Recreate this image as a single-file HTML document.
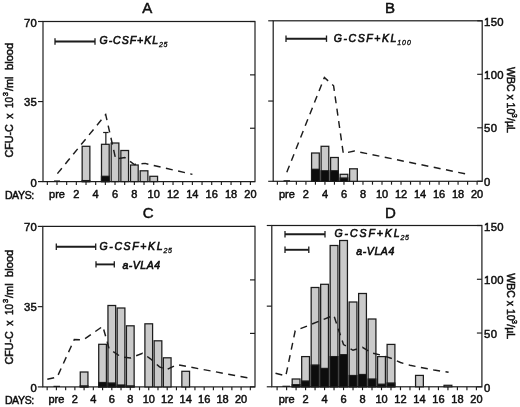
<!DOCTYPE html>
<html><head><meta charset="utf-8"><title>Figure</title>
<style>
html,body{margin:0;padding:0;background:#fff;}
body{width:520px;height:407px;overflow:hidden;font-family:"Liberation Sans",sans-serif;}
svg{display:block;}
svg text{font-family:"Liberation Sans",sans-serif;fill:#111;stroke:#111;stroke-width:0.5px;}
svg text.bi{font-style:italic;font-weight:normal;stroke-width:0.62px;}
svg text.sub{stroke-width:0.35px;}
</style></head><body>
<svg width="520" height="407" viewBox="0 0 520 407">
<defs><filter id="soft" x="0" y="0" width="520" height="407" filterUnits="userSpaceOnUse"><feGaussianBlur stdDeviation="0.35"/></filter></defs>
<rect width="520" height="407" fill="#ffffff"/>
<g filter="url(#soft)">
<rect x="43" y="21.5" width="212" height="160.1" fill="none" stroke="#1c1c1c" stroke-width="1.2"/>
<line x1="47.33" y1="181.6" x2="47.33" y2="185.0" stroke="#1c1c1c" stroke-width="1.15" />
<line x1="57.0" y1="181.6" x2="57.0" y2="185.0" stroke="#1c1c1c" stroke-width="1.15" />
<line x1="66.67" y1="181.6" x2="66.67" y2="185.0" stroke="#1c1c1c" stroke-width="1.15" />
<line x1="76.34" y1="181.6" x2="76.34" y2="185.0" stroke="#1c1c1c" stroke-width="1.15" />
<line x1="86.00999999999999" y1="181.6" x2="86.00999999999999" y2="185.0" stroke="#1c1c1c" stroke-width="1.15" />
<line x1="95.68" y1="181.6" x2="95.68" y2="185.0" stroke="#1c1c1c" stroke-width="1.15" />
<line x1="105.35" y1="181.6" x2="105.35" y2="185.0" stroke="#1c1c1c" stroke-width="1.15" />
<line x1="115.02" y1="181.6" x2="115.02" y2="185.0" stroke="#1c1c1c" stroke-width="1.15" />
<line x1="124.69" y1="181.6" x2="124.69" y2="185.0" stroke="#1c1c1c" stroke-width="1.15" />
<line x1="134.36" y1="181.6" x2="134.36" y2="185.0" stroke="#1c1c1c" stroke-width="1.15" />
<line x1="144.03" y1="181.6" x2="144.03" y2="185.0" stroke="#1c1c1c" stroke-width="1.15" />
<line x1="153.7" y1="181.6" x2="153.7" y2="185.0" stroke="#1c1c1c" stroke-width="1.15" />
<line x1="163.37" y1="181.6" x2="163.37" y2="185.0" stroke="#1c1c1c" stroke-width="1.15" />
<line x1="173.04" y1="181.6" x2="173.04" y2="185.0" stroke="#1c1c1c" stroke-width="1.15" />
<line x1="182.70999999999998" y1="181.6" x2="182.70999999999998" y2="185.0" stroke="#1c1c1c" stroke-width="1.15" />
<line x1="192.38" y1="181.6" x2="192.38" y2="185.0" stroke="#1c1c1c" stroke-width="1.15" />
<line x1="202.05" y1="181.6" x2="202.05" y2="185.0" stroke="#1c1c1c" stroke-width="1.15" />
<line x1="211.72" y1="181.6" x2="211.72" y2="185.0" stroke="#1c1c1c" stroke-width="1.15" />
<line x1="221.39" y1="181.6" x2="221.39" y2="185.0" stroke="#1c1c1c" stroke-width="1.15" />
<line x1="231.06" y1="181.6" x2="231.06" y2="185.0" stroke="#1c1c1c" stroke-width="1.15" />
<line x1="240.73" y1="181.6" x2="240.73" y2="185.0" stroke="#1c1c1c" stroke-width="1.15" />
<line x1="250.4" y1="181.6" x2="250.4" y2="185.0" stroke="#1c1c1c" stroke-width="1.15" />
<line x1="38" y1="21.5" x2="43" y2="21.5" stroke="#1c1c1c" stroke-width="1.15" />
<line x1="38" y1="101.55" x2="43" y2="101.55" stroke="#1c1c1c" stroke-width="1.15" />
<line x1="38" y1="181.6" x2="43" y2="181.6" stroke="#1c1c1c" stroke-width="1.15" />
<line x1="250" y1="21.5" x2="255" y2="21.5" stroke="#1c1c1c" stroke-width="1.15" />
<line x1="250" y1="74.86666666666666" x2="255" y2="74.86666666666666" stroke="#1c1c1c" stroke-width="1.15" />
<line x1="250" y1="128.23333333333332" x2="255" y2="128.23333333333332" stroke="#1c1c1c" stroke-width="1.15" />
<line x1="250" y1="181.6" x2="255" y2="181.6" stroke="#1c1c1c" stroke-width="1.15" />
<rect x="82.16" y="146.3" width="7.7" height="35.30" fill="#cacaca" stroke="#1c1c1c" stroke-width="1.25"/>
<rect x="82.16" y="180.6" width="7.7" height="1.00" fill="#0a0a0a" stroke="#1c1c1c" stroke-width="1.25"/>
<rect x="101.50" y="144.3" width="7.7" height="37.30" fill="#cacaca" stroke="#1c1c1c" stroke-width="1.25"/>
<rect x="101.50" y="176.3" width="7.7" height="5.30" fill="#0a0a0a" stroke="#1c1c1c" stroke-width="1.25"/>
<rect x="111.17" y="143" width="7.7" height="38.60" fill="#cacaca" stroke="#1c1c1c" stroke-width="1.25"/>
<rect x="120.84" y="150.5" width="7.7" height="31.10" fill="#cacaca" stroke="#1c1c1c" stroke-width="1.25"/>
<rect x="130.51" y="165" width="7.7" height="16.60" fill="#cacaca" stroke="#1c1c1c" stroke-width="1.25"/>
<rect x="140.18" y="170.8" width="7.7" height="10.80" fill="#cacaca" stroke="#1c1c1c" stroke-width="1.25"/>
<rect x="149.85" y="176.3" width="7.7" height="5.30" fill="#cacaca" stroke="#1c1c1c" stroke-width="1.25"/>
<line x1="105.85" y1="132.5" x2="105.85" y2="144.3" stroke="#1c1c1c" stroke-width="1.2" />
<line x1="103.14999999999999" y1="132.5" x2="108.55" y2="132.5" stroke="#1c1c1c" stroke-width="1.2" />
<polyline points="57.4,173.6 105.7,114.6 115.7,159 124.7,157.5 134.3,164.5 145,163.4 192.4,174.4" fill="none" stroke="#1c1c1c" stroke-width="1.45" stroke-dasharray="7 5.5"/>
<line x1="55" y1="41.5" x2="95" y2="41.5" stroke="#1c1c1c" stroke-width="1.9" />
<line x1="55" y1="38.3" x2="55" y2="44.7" stroke="#1c1c1c" stroke-width="1.3" />
<line x1="95" y1="38.3" x2="95" y2="44.7" stroke="#1c1c1c" stroke-width="1.3" />
<text x="99.5" y="44" font-size="10.5" class="bi" textLength="58.5" lengthAdjust="spacing">G-CSF+KL</text>
<text x="159.0" y="47.1" font-size="7" class="bi sub" textLength="8.5" lengthAdjust="spacing">25</text>
<text x="147.3" y="12.6" font-size="15" text-anchor="middle" >A</text>
<line x1="54" y1="181" x2="60" y2="181" stroke="#1c1c1c" stroke-width="1.2" />
<rect x="273.2" y="20.8" width="209.0" height="160.5" fill="none" stroke="#1c1c1c" stroke-width="1.2"/>
<line x1="277.39" y1="181.3" x2="277.39" y2="184.70000000000002" stroke="#1c1c1c" stroke-width="1.15" />
<line x1="286.9" y1="181.3" x2="286.9" y2="184.70000000000002" stroke="#1c1c1c" stroke-width="1.15" />
<line x1="296.40999999999997" y1="181.3" x2="296.40999999999997" y2="184.70000000000002" stroke="#1c1c1c" stroke-width="1.15" />
<line x1="305.91999999999996" y1="181.3" x2="305.91999999999996" y2="184.70000000000002" stroke="#1c1c1c" stroke-width="1.15" />
<line x1="315.42999999999995" y1="181.3" x2="315.42999999999995" y2="184.70000000000002" stroke="#1c1c1c" stroke-width="1.15" />
<line x1="324.94" y1="181.3" x2="324.94" y2="184.70000000000002" stroke="#1c1c1c" stroke-width="1.15" />
<line x1="334.45" y1="181.3" x2="334.45" y2="184.70000000000002" stroke="#1c1c1c" stroke-width="1.15" />
<line x1="343.96" y1="181.3" x2="343.96" y2="184.70000000000002" stroke="#1c1c1c" stroke-width="1.15" />
<line x1="353.46999999999997" y1="181.3" x2="353.46999999999997" y2="184.70000000000002" stroke="#1c1c1c" stroke-width="1.15" />
<line x1="362.97999999999996" y1="181.3" x2="362.97999999999996" y2="184.70000000000002" stroke="#1c1c1c" stroke-width="1.15" />
<line x1="372.49" y1="181.3" x2="372.49" y2="184.70000000000002" stroke="#1c1c1c" stroke-width="1.15" />
<line x1="382.0" y1="181.3" x2="382.0" y2="184.70000000000002" stroke="#1c1c1c" stroke-width="1.15" />
<line x1="391.51" y1="181.3" x2="391.51" y2="184.70000000000002" stroke="#1c1c1c" stroke-width="1.15" />
<line x1="401.02" y1="181.3" x2="401.02" y2="184.70000000000002" stroke="#1c1c1c" stroke-width="1.15" />
<line x1="410.53" y1="181.3" x2="410.53" y2="184.70000000000002" stroke="#1c1c1c" stroke-width="1.15" />
<line x1="420.03999999999996" y1="181.3" x2="420.03999999999996" y2="184.70000000000002" stroke="#1c1c1c" stroke-width="1.15" />
<line x1="429.54999999999995" y1="181.3" x2="429.54999999999995" y2="184.70000000000002" stroke="#1c1c1c" stroke-width="1.15" />
<line x1="439.05999999999995" y1="181.3" x2="439.05999999999995" y2="184.70000000000002" stroke="#1c1c1c" stroke-width="1.15" />
<line x1="448.56999999999994" y1="181.3" x2="448.56999999999994" y2="184.70000000000002" stroke="#1c1c1c" stroke-width="1.15" />
<line x1="458.08" y1="181.3" x2="458.08" y2="184.70000000000002" stroke="#1c1c1c" stroke-width="1.15" />
<line x1="467.59" y1="181.3" x2="467.59" y2="184.70000000000002" stroke="#1c1c1c" stroke-width="1.15" />
<line x1="477.09999999999997" y1="181.3" x2="477.09999999999997" y2="184.70000000000002" stroke="#1c1c1c" stroke-width="1.15" />
<line x1="268.2" y1="20.8" x2="273.2" y2="20.8" stroke="#1c1c1c" stroke-width="1.15" />
<line x1="268.2" y1="101.05" x2="273.2" y2="101.05" stroke="#1c1c1c" stroke-width="1.15" />
<line x1="268.2" y1="181.3" x2="273.2" y2="181.3" stroke="#1c1c1c" stroke-width="1.15" />
<line x1="477.2" y1="20.8" x2="482.2" y2="20.8" stroke="#1c1c1c" stroke-width="1.15" />
<line x1="477.2" y1="74.3" x2="482.2" y2="74.3" stroke="#1c1c1c" stroke-width="1.15" />
<line x1="477.2" y1="127.8" x2="482.2" y2="127.8" stroke="#1c1c1c" stroke-width="1.15" />
<line x1="477.2" y1="181.3" x2="482.2" y2="181.3" stroke="#1c1c1c" stroke-width="1.15" />
<rect x="311.58" y="153" width="7.7" height="28.30" fill="#cacaca" stroke="#1c1c1c" stroke-width="1.25"/>
<rect x="311.58" y="169.3" width="7.7" height="12.00" fill="#0a0a0a" stroke="#1c1c1c" stroke-width="1.25"/>
<rect x="321.09" y="146.3" width="7.7" height="35.00" fill="#cacaca" stroke="#1c1c1c" stroke-width="1.25"/>
<rect x="321.09" y="170.8" width="7.7" height="10.50" fill="#0a0a0a" stroke="#1c1c1c" stroke-width="1.25"/>
<rect x="330.60" y="157.5" width="7.7" height="23.80" fill="#cacaca" stroke="#1c1c1c" stroke-width="1.25"/>
<rect x="330.60" y="170.8" width="7.7" height="10.50" fill="#0a0a0a" stroke="#1c1c1c" stroke-width="1.25"/>
<rect x="340.11" y="174.3" width="7.7" height="7.00" fill="#cacaca" stroke="#1c1c1c" stroke-width="1.25"/>
<rect x="340.11" y="178" width="7.7" height="3.30" fill="#0a0a0a" stroke="#1c1c1c" stroke-width="1.25"/>
<rect x="349.62" y="168.8" width="7.7" height="12.50" fill="#cacaca" stroke="#1c1c1c" stroke-width="1.25"/>
<polyline points="286.8,172.3 324.4,77.5 333.6,85.8 343.3,153.4 354.3,151 467.7,174.3" fill="none" stroke="#1c1c1c" stroke-width="1.45" stroke-dasharray="7 5.5"/>
<line x1="286" y1="38.7" x2="326.5" y2="38.7" stroke="#1c1c1c" stroke-width="1.9" />
<line x1="286" y1="35.5" x2="286" y2="41.900000000000006" stroke="#1c1c1c" stroke-width="1.3" />
<line x1="326.5" y1="35.5" x2="326.5" y2="41.900000000000006" stroke="#1c1c1c" stroke-width="1.3" />
<text x="333.8" y="41.5" font-size="10.5" class="bi" textLength="62.5" lengthAdjust="spacing">G-CSF+KL</text>
<text x="397.3" y="44.6" font-size="7" class="bi sub" textLength="13.5" lengthAdjust="spacing">100</text>
<text x="390" y="12.6" font-size="15" text-anchor="middle" >B</text>
<line x1="283.5" y1="180.8" x2="290" y2="180.8" stroke="#1c1c1c" stroke-width="1.2" />
<rect x="42.8" y="226.4" width="212.2" height="160.49999999999997" fill="none" stroke="#1c1c1c" stroke-width="1.2"/>
<line x1="47.165" y1="386.9" x2="47.165" y2="390.29999999999995" stroke="#1c1c1c" stroke-width="1.15" />
<line x1="56.4" y1="386.9" x2="56.4" y2="390.29999999999995" stroke="#1c1c1c" stroke-width="1.15" />
<line x1="65.63499999999999" y1="386.9" x2="65.63499999999999" y2="390.29999999999995" stroke="#1c1c1c" stroke-width="1.15" />
<line x1="74.87" y1="386.9" x2="74.87" y2="390.29999999999995" stroke="#1c1c1c" stroke-width="1.15" />
<line x1="84.10499999999999" y1="386.9" x2="84.10499999999999" y2="390.29999999999995" stroke="#1c1c1c" stroke-width="1.15" />
<line x1="93.34" y1="386.9" x2="93.34" y2="390.29999999999995" stroke="#1c1c1c" stroke-width="1.15" />
<line x1="102.57499999999999" y1="386.9" x2="102.57499999999999" y2="390.29999999999995" stroke="#1c1c1c" stroke-width="1.15" />
<line x1="111.81" y1="386.9" x2="111.81" y2="390.29999999999995" stroke="#1c1c1c" stroke-width="1.15" />
<line x1="121.04499999999999" y1="386.9" x2="121.04499999999999" y2="390.29999999999995" stroke="#1c1c1c" stroke-width="1.15" />
<line x1="130.28" y1="386.9" x2="130.28" y2="390.29999999999995" stroke="#1c1c1c" stroke-width="1.15" />
<line x1="139.515" y1="386.9" x2="139.515" y2="390.29999999999995" stroke="#1c1c1c" stroke-width="1.15" />
<line x1="148.75" y1="386.9" x2="148.75" y2="390.29999999999995" stroke="#1c1c1c" stroke-width="1.15" />
<line x1="157.98499999999999" y1="386.9" x2="157.98499999999999" y2="390.29999999999995" stroke="#1c1c1c" stroke-width="1.15" />
<line x1="167.22" y1="386.9" x2="167.22" y2="390.29999999999995" stroke="#1c1c1c" stroke-width="1.15" />
<line x1="176.45499999999998" y1="386.9" x2="176.45499999999998" y2="390.29999999999995" stroke="#1c1c1c" stroke-width="1.15" />
<line x1="185.69" y1="386.9" x2="185.69" y2="390.29999999999995" stroke="#1c1c1c" stroke-width="1.15" />
<line x1="194.92499999999998" y1="386.9" x2="194.92499999999998" y2="390.29999999999995" stroke="#1c1c1c" stroke-width="1.15" />
<line x1="204.16" y1="386.9" x2="204.16" y2="390.29999999999995" stroke="#1c1c1c" stroke-width="1.15" />
<line x1="213.395" y1="386.9" x2="213.395" y2="390.29999999999995" stroke="#1c1c1c" stroke-width="1.15" />
<line x1="222.63" y1="386.9" x2="222.63" y2="390.29999999999995" stroke="#1c1c1c" stroke-width="1.15" />
<line x1="231.86499999999998" y1="386.9" x2="231.86499999999998" y2="390.29999999999995" stroke="#1c1c1c" stroke-width="1.15" />
<line x1="241.1" y1="386.9" x2="241.1" y2="390.29999999999995" stroke="#1c1c1c" stroke-width="1.15" />
<line x1="250.335" y1="386.9" x2="250.335" y2="390.29999999999995" stroke="#1c1c1c" stroke-width="1.15" />
<line x1="37.8" y1="226.4" x2="42.8" y2="226.4" stroke="#1c1c1c" stroke-width="1.15" />
<line x1="37.8" y1="306.65" x2="42.8" y2="306.65" stroke="#1c1c1c" stroke-width="1.15" />
<line x1="37.8" y1="386.9" x2="42.8" y2="386.9" stroke="#1c1c1c" stroke-width="1.15" />
<line x1="250" y1="226.4" x2="255" y2="226.4" stroke="#1c1c1c" stroke-width="1.15" />
<line x1="250" y1="279.9" x2="255" y2="279.9" stroke="#1c1c1c" stroke-width="1.15" />
<line x1="250" y1="333.4" x2="255" y2="333.4" stroke="#1c1c1c" stroke-width="1.15" />
<line x1="250" y1="386.9" x2="255" y2="386.9" stroke="#1c1c1c" stroke-width="1.15" />
<rect x="80.25" y="372" width="7.7" height="14.90" fill="#cacaca" stroke="#1c1c1c" stroke-width="1.25"/>
<rect x="80.25" y="385.9" width="7.7" height="1.00" fill="#0a0a0a" stroke="#1c1c1c" stroke-width="1.25"/>
<rect x="98.72" y="344.3" width="7.7" height="42.60" fill="#cacaca" stroke="#1c1c1c" stroke-width="1.25"/>
<rect x="98.72" y="382.5" width="7.7" height="4.40" fill="#0a0a0a" stroke="#1c1c1c" stroke-width="1.25"/>
<rect x="107.96" y="305.5" width="7.7" height="81.40" fill="#cacaca" stroke="#1c1c1c" stroke-width="1.25"/>
<rect x="107.96" y="383" width="7.7" height="3.90" fill="#0a0a0a" stroke="#1c1c1c" stroke-width="1.25"/>
<rect x="117.19" y="308" width="7.7" height="78.90" fill="#cacaca" stroke="#1c1c1c" stroke-width="1.25"/>
<rect x="117.19" y="385" width="7.7" height="1.90" fill="#0a0a0a" stroke="#1c1c1c" stroke-width="1.25"/>
<rect x="126.43" y="325.8" width="7.7" height="61.10" fill="#cacaca" stroke="#1c1c1c" stroke-width="1.25"/>
<rect x="126.43" y="385.9" width="7.7" height="1.00" fill="#0a0a0a" stroke="#1c1c1c" stroke-width="1.25"/>
<rect x="144.90" y="323.8" width="7.7" height="63.10" fill="#cacaca" stroke="#1c1c1c" stroke-width="1.25"/>
<rect x="154.13" y="340.8" width="7.7" height="46.10" fill="#cacaca" stroke="#1c1c1c" stroke-width="1.25"/>
<rect x="163.37" y="357.8" width="7.7" height="29.10" fill="#cacaca" stroke="#1c1c1c" stroke-width="1.25"/>
<rect x="181.84" y="371.3" width="7.7" height="15.60" fill="#cacaca" stroke="#1c1c1c" stroke-width="1.25"/>
<polyline points="47.3,379.2 57.2,377 74.3,339.5 83.5,339.8 102.8,326.3 109.2,349 121,356.8 130.5,358 142.5,353.3 150.5,358.8 159.5,366.8 166.5,369.8 177,364.6 251,378.5" fill="none" stroke="#1c1c1c" stroke-width="1.45" stroke-dasharray="7 5.5"/>
<line x1="56.3" y1="246.8" x2="95.7" y2="246.8" stroke="#1c1c1c" stroke-width="1.9" />
<line x1="56.3" y1="243.60000000000002" x2="56.3" y2="250.0" stroke="#1c1c1c" stroke-width="1.3" />
<line x1="95.7" y1="243.60000000000002" x2="95.7" y2="250.0" stroke="#1c1c1c" stroke-width="1.3" />
<line x1="96" y1="264.4" x2="114.3" y2="264.4" stroke="#1c1c1c" stroke-width="1.9" />
<line x1="96" y1="261.2" x2="96" y2="267.59999999999997" stroke="#1c1c1c" stroke-width="1.3" />
<line x1="114.3" y1="261.2" x2="114.3" y2="267.59999999999997" stroke="#1c1c1c" stroke-width="1.3" />
<text x="99.5" y="250" font-size="10.5" class="bi" textLength="63" lengthAdjust="spacing">G-CSF+KL</text>
<text x="163.5" y="253.1" font-size="7" class="bi sub" textLength="8.3" lengthAdjust="spacing">25</text>
<text x="122.5" y="268.7" font-size="10.5" class="bi" textLength="37.5" lengthAdjust="spacing">a-VLA4</text>
<text x="148.2" y="217.8" font-size="15" text-anchor="middle" >C</text>
<line x1="53.5" y1="386.4" x2="60" y2="386.4" stroke="#1c1c1c" stroke-width="1.2" />
<rect x="271.8" y="225.5" width="210.09999999999997" height="161.3" fill="none" stroke="#1c1c1c" stroke-width="1.2"/>
<line x1="277.11" y1="386.8" x2="277.11" y2="390.2" stroke="#1c1c1c" stroke-width="1.15" />
<line x1="286.6" y1="386.8" x2="286.6" y2="390.2" stroke="#1c1c1c" stroke-width="1.15" />
<line x1="296.09000000000003" y1="386.8" x2="296.09000000000003" y2="390.2" stroke="#1c1c1c" stroke-width="1.15" />
<line x1="305.58000000000004" y1="386.8" x2="305.58000000000004" y2="390.2" stroke="#1c1c1c" stroke-width="1.15" />
<line x1="315.07000000000005" y1="386.8" x2="315.07000000000005" y2="390.2" stroke="#1c1c1c" stroke-width="1.15" />
<line x1="324.56" y1="386.8" x2="324.56" y2="390.2" stroke="#1c1c1c" stroke-width="1.15" />
<line x1="334.05" y1="386.8" x2="334.05" y2="390.2" stroke="#1c1c1c" stroke-width="1.15" />
<line x1="343.54" y1="386.8" x2="343.54" y2="390.2" stroke="#1c1c1c" stroke-width="1.15" />
<line x1="353.03000000000003" y1="386.8" x2="353.03000000000003" y2="390.2" stroke="#1c1c1c" stroke-width="1.15" />
<line x1="362.52000000000004" y1="386.8" x2="362.52000000000004" y2="390.2" stroke="#1c1c1c" stroke-width="1.15" />
<line x1="372.01" y1="386.8" x2="372.01" y2="390.2" stroke="#1c1c1c" stroke-width="1.15" />
<line x1="381.5" y1="386.8" x2="381.5" y2="390.2" stroke="#1c1c1c" stroke-width="1.15" />
<line x1="390.99" y1="386.8" x2="390.99" y2="390.2" stroke="#1c1c1c" stroke-width="1.15" />
<line x1="400.48" y1="386.8" x2="400.48" y2="390.2" stroke="#1c1c1c" stroke-width="1.15" />
<line x1="409.97" y1="386.8" x2="409.97" y2="390.2" stroke="#1c1c1c" stroke-width="1.15" />
<line x1="419.46000000000004" y1="386.8" x2="419.46000000000004" y2="390.2" stroke="#1c1c1c" stroke-width="1.15" />
<line x1="428.95000000000005" y1="386.8" x2="428.95000000000005" y2="390.2" stroke="#1c1c1c" stroke-width="1.15" />
<line x1="438.44000000000005" y1="386.8" x2="438.44000000000005" y2="390.2" stroke="#1c1c1c" stroke-width="1.15" />
<line x1="447.93000000000006" y1="386.8" x2="447.93000000000006" y2="390.2" stroke="#1c1c1c" stroke-width="1.15" />
<line x1="457.42" y1="386.8" x2="457.42" y2="390.2" stroke="#1c1c1c" stroke-width="1.15" />
<line x1="466.91" y1="386.8" x2="466.91" y2="390.2" stroke="#1c1c1c" stroke-width="1.15" />
<line x1="476.40000000000003" y1="386.8" x2="476.40000000000003" y2="390.2" stroke="#1c1c1c" stroke-width="1.15" />
<line x1="266.8" y1="225.5" x2="271.8" y2="225.5" stroke="#1c1c1c" stroke-width="1.15" />
<line x1="266.8" y1="306.15" x2="271.8" y2="306.15" stroke="#1c1c1c" stroke-width="1.15" />
<line x1="266.8" y1="386.8" x2="271.8" y2="386.8" stroke="#1c1c1c" stroke-width="1.15" />
<line x1="476.9" y1="225.5" x2="481.9" y2="225.5" stroke="#1c1c1c" stroke-width="1.15" />
<line x1="476.9" y1="279.26666666666665" x2="481.9" y2="279.26666666666665" stroke="#1c1c1c" stroke-width="1.15" />
<line x1="476.9" y1="333.0333333333333" x2="481.9" y2="333.0333333333333" stroke="#1c1c1c" stroke-width="1.15" />
<line x1="476.9" y1="386.8" x2="481.9" y2="386.8" stroke="#1c1c1c" stroke-width="1.15" />
<rect x="292.19" y="379" width="7.8" height="7.80" fill="#cacaca" stroke="#1c1c1c" stroke-width="1.25"/>
<rect x="292.19" y="384.7" width="7.8" height="2.10" fill="#0a0a0a" stroke="#1c1c1c" stroke-width="1.25"/>
<rect x="301.68" y="356.6" width="7.8" height="30.20" fill="#cacaca" stroke="#1c1c1c" stroke-width="1.25"/>
<rect x="301.68" y="381" width="7.8" height="5.80" fill="#0a0a0a" stroke="#1c1c1c" stroke-width="1.25"/>
<rect x="311.17" y="287.5" width="7.8" height="99.30" fill="#cacaca" stroke="#1c1c1c" stroke-width="1.25"/>
<rect x="311.17" y="365" width="7.8" height="21.80" fill="#0a0a0a" stroke="#1c1c1c" stroke-width="1.25"/>
<rect x="320.66" y="284.3" width="7.8" height="102.50" fill="#cacaca" stroke="#1c1c1c" stroke-width="1.25"/>
<rect x="320.66" y="368.4" width="7.8" height="18.40" fill="#0a0a0a" stroke="#1c1c1c" stroke-width="1.25"/>
<rect x="330.15" y="245.5" width="7.8" height="141.30" fill="#cacaca" stroke="#1c1c1c" stroke-width="1.25"/>
<rect x="330.15" y="356.6" width="7.8" height="30.20" fill="#0a0a0a" stroke="#1c1c1c" stroke-width="1.25"/>
<rect x="339.64" y="240.5" width="7.8" height="146.30" fill="#cacaca" stroke="#1c1c1c" stroke-width="1.25"/>
<rect x="339.64" y="354.7" width="7.8" height="32.10" fill="#0a0a0a" stroke="#1c1c1c" stroke-width="1.25"/>
<rect x="349.13" y="302" width="7.8" height="84.80" fill="#cacaca" stroke="#1c1c1c" stroke-width="1.25"/>
<rect x="349.13" y="375.5" width="7.8" height="11.30" fill="#0a0a0a" stroke="#1c1c1c" stroke-width="1.25"/>
<rect x="358.62" y="293.5" width="7.8" height="93.30" fill="#cacaca" stroke="#1c1c1c" stroke-width="1.25"/>
<rect x="358.62" y="374.5" width="7.8" height="12.30" fill="#0a0a0a" stroke="#1c1c1c" stroke-width="1.25"/>
<rect x="368.11" y="319" width="7.8" height="67.80" fill="#cacaca" stroke="#1c1c1c" stroke-width="1.25"/>
<rect x="368.11" y="379" width="7.8" height="7.80" fill="#0a0a0a" stroke="#1c1c1c" stroke-width="1.25"/>
<rect x="377.60" y="356.6" width="7.8" height="30.20" fill="#cacaca" stroke="#1c1c1c" stroke-width="1.25"/>
<rect x="377.60" y="384.2" width="7.8" height="2.60" fill="#0a0a0a" stroke="#1c1c1c" stroke-width="1.25"/>
<rect x="387.09" y="344.4" width="7.8" height="42.40" fill="#cacaca" stroke="#1c1c1c" stroke-width="1.25"/>
<rect x="387.09" y="383" width="7.8" height="3.80" fill="#0a0a0a" stroke="#1c1c1c" stroke-width="1.25"/>
<rect x="415.56" y="375.4" width="7.8" height="11.40" fill="#cacaca" stroke="#1c1c1c" stroke-width="1.25"/>
<rect x="444.03" y="385.3" width="7.8" height="1.50" fill="#cacaca" stroke="#1c1c1c" stroke-width="1.25"/>
<polyline points="275.5,373.3 285.8,376 295.2,330.8 333.8,315.3 343.5,344.5 353,350.3 362.5,347.3 372,353 381.5,355.3 391,358.2 400.5,362.5 410,365.3 420,367.3 434,370 448.6,372.3" fill="none" stroke="#1c1c1c" stroke-width="1.45" stroke-dasharray="7 5.5"/>
<line x1="285" y1="234.3" x2="325" y2="234.3" stroke="#1c1c1c" stroke-width="1.9" />
<line x1="285" y1="231.10000000000002" x2="285" y2="237.5" stroke="#1c1c1c" stroke-width="1.3" />
<line x1="325" y1="231.10000000000002" x2="325" y2="237.5" stroke="#1c1c1c" stroke-width="1.3" />
<line x1="285" y1="249.8" x2="308.8" y2="249.8" stroke="#1c1c1c" stroke-width="1.9" />
<line x1="285" y1="246.60000000000002" x2="285" y2="253.0" stroke="#1c1c1c" stroke-width="1.3" />
<line x1="308.8" y1="246.60000000000002" x2="308.8" y2="253.0" stroke="#1c1c1c" stroke-width="1.3" />
<text x="334.5" y="236.8" font-size="10.5" class="bi" textLength="65" lengthAdjust="spacing">G-CSF+KL</text>
<text x="400.5" y="239.9" font-size="7" class="bi sub" textLength="8.3" lengthAdjust="spacing">25</text>
<text x="356.3" y="255" font-size="10.5" class="bi" textLength="38" lengthAdjust="spacing">a-VLA4</text>
<text x="390.3" y="217.8" font-size="15" text-anchor="middle" >D</text>
<line x1="282.5" y1="386.3" x2="290" y2="386.3" stroke="#1c1c1c" stroke-width="1.2" />
<text x="37.2" y="26.5" font-size="11.3" text-anchor="end" letter-spacing="0.35">70</text>
<text x="37.2" y="106.14999999999999" font-size="11.3" text-anchor="end" letter-spacing="0.35">35</text>
<text x="37.2" y="186.6" font-size="11.3" text-anchor="end" letter-spacing="0.35">0</text>
<text x="37.2" y="231.4" font-size="11.3" text-anchor="end" letter-spacing="0.35">70</text>
<text x="37.2" y="311.25" font-size="11.3" text-anchor="end" letter-spacing="0.35">35</text>
<text x="37.2" y="391.9" font-size="11.3" text-anchor="end" letter-spacing="0.35">0</text>
<text x="484.1" y="25.8" font-size="11.3" text-anchor="start" letter-spacing="0.35">150</text>
<text x="484.1" y="78.8" font-size="11.3" text-anchor="start" letter-spacing="0.35">100</text>
<text x="484.1" y="132.4" font-size="11.3" text-anchor="start" letter-spacing="0.35">50</text>
<text x="484.1" y="186.3" font-size="11.3" text-anchor="start" letter-spacing="0.35">0</text>
<text x="484.1" y="230.5" font-size="11.3" text-anchor="start" letter-spacing="0.35">150</text>
<text x="484.1" y="283.76666666666665" font-size="11.3" text-anchor="start" letter-spacing="0.35">100</text>
<text x="484.1" y="337.6333333333334" font-size="11.3" text-anchor="start" letter-spacing="0.35">50</text>
<text x="484.1" y="391.8" font-size="11.3" text-anchor="start" letter-spacing="0.35">0</text>
<text x="57" y="198.0" font-size="11" text-anchor="middle" >pre</text>
<text x="76.34" y="198.0" font-size="11" text-anchor="middle" >2</text>
<text x="95.68" y="198.0" font-size="11" text-anchor="middle" >4</text>
<text x="115.02" y="198.0" font-size="11" text-anchor="middle" >6</text>
<text x="134.36" y="198.0" font-size="11" text-anchor="middle" >8</text>
<text x="153.7" y="198.0" font-size="11" text-anchor="middle" >10</text>
<text x="173.04" y="198.0" font-size="11" text-anchor="middle" >12</text>
<text x="192.38" y="198.0" font-size="11" text-anchor="middle" >14</text>
<text x="211.72" y="198.0" font-size="11" text-anchor="middle" >16</text>
<text x="231.06" y="198.0" font-size="11" text-anchor="middle" >18</text>
<text x="250.4" y="198.0" font-size="11" text-anchor="middle" >20</text>
<text x="286.9" y="198.0" font-size="11" text-anchor="middle" >pre</text>
<text x="305.91999999999996" y="198.0" font-size="11" text-anchor="middle" >2</text>
<text x="324.94" y="198.0" font-size="11" text-anchor="middle" >4</text>
<text x="343.96" y="198.0" font-size="11" text-anchor="middle" >6</text>
<text x="362.97999999999996" y="198.0" font-size="11" text-anchor="middle" >8</text>
<text x="382.0" y="198.0" font-size="11" text-anchor="middle" >10</text>
<text x="401.02" y="198.0" font-size="11" text-anchor="middle" >12</text>
<text x="420.03999999999996" y="198.0" font-size="11" text-anchor="middle" >14</text>
<text x="439.05999999999995" y="198.0" font-size="11" text-anchor="middle" >16</text>
<text x="458.08" y="198.0" font-size="11" text-anchor="middle" >18</text>
<text x="477.09999999999997" y="198.0" font-size="11" text-anchor="middle" >20</text>
<text x="56.4" y="403.4" font-size="11" text-anchor="middle" >pre</text>
<text x="74.87" y="403.4" font-size="11" text-anchor="middle" >2</text>
<text x="93.34" y="403.4" font-size="11" text-anchor="middle" >4</text>
<text x="111.81" y="403.4" font-size="11" text-anchor="middle" >6</text>
<text x="130.28" y="403.4" font-size="11" text-anchor="middle" >8</text>
<text x="148.75" y="403.4" font-size="11" text-anchor="middle" >10</text>
<text x="167.22" y="403.4" font-size="11" text-anchor="middle" >12</text>
<text x="185.69" y="403.4" font-size="11" text-anchor="middle" >14</text>
<text x="204.16" y="403.4" font-size="11" text-anchor="middle" >16</text>
<text x="222.63" y="403.4" font-size="11" text-anchor="middle" >18</text>
<text x="241.1" y="403.4" font-size="11" text-anchor="middle" >20</text>
<text x="286.6" y="403.4" font-size="11" text-anchor="middle" >pre</text>
<text x="305.58000000000004" y="403.4" font-size="11" text-anchor="middle" >2</text>
<text x="324.56" y="403.4" font-size="11" text-anchor="middle" >4</text>
<text x="343.54" y="403.4" font-size="11" text-anchor="middle" >6</text>
<text x="362.52000000000004" y="403.4" font-size="11" text-anchor="middle" >8</text>
<text x="381.5" y="403.4" font-size="11" text-anchor="middle" >10</text>
<text x="400.48" y="403.4" font-size="11" text-anchor="middle" >12</text>
<text x="419.46000000000004" y="403.4" font-size="11" text-anchor="middle" >14</text>
<text x="438.44000000000005" y="403.4" font-size="11" text-anchor="middle" >16</text>
<text x="457.42" y="403.4" font-size="11" text-anchor="middle" >18</text>
<text x="476.40000000000003" y="403.4" font-size="11" text-anchor="middle" >20</text>
<text x="4.9" y="198.5" font-size="10.5" text-anchor="start" textLength="29.3">DAYS:</text>
<text x="4.9" y="403.7" font-size="10.5" text-anchor="start" textLength="29.3">DAYS:</text>
<g transform="translate(12.9,99.6) rotate(-90)">
<text x="-58" y="0" font-size="10.5" textLength="33.3" lengthAdjust="spacingAndGlyphs">CFU-C</text>
<text x="-19.2" y="0" font-size="10.5">x</text>
<text x="-8.4" y="0" font-size="10.5" textLength="11" lengthAdjust="spacingAndGlyphs">10</text>
<text x="3.4" y="-4.6" font-size="7.5">3</text>
<text x="8.6" y="0" font-size="10.5" textLength="14.5" lengthAdjust="spacingAndGlyphs">/ml</text>
<text x="29.6" y="0" font-size="10.5" textLength="27.2" lengthAdjust="spacingAndGlyphs">blood</text>
</g>
<g transform="translate(12.9,306.5) rotate(-90)">
<text x="-58" y="0" font-size="10.5" textLength="33.3" lengthAdjust="spacingAndGlyphs">CFU-C</text>
<text x="-19.2" y="0" font-size="10.5">x</text>
<text x="-8.4" y="0" font-size="10.5" textLength="11" lengthAdjust="spacingAndGlyphs">10</text>
<text x="3.4" y="-4.6" font-size="7.5">3</text>
<text x="8.6" y="0" font-size="10.5" textLength="14.5" lengthAdjust="spacingAndGlyphs">/ml</text>
<text x="29.6" y="0" font-size="10.5" textLength="27.2" lengthAdjust="spacingAndGlyphs">blood</text>
</g>
<g transform="translate(507.4,100) rotate(90)">
<text x="-33" y="0" font-size="10.5">WBC x 10</text>
<text x="13.5" y="-4.6" font-size="7.5">3</text>
<text x="18" y="0" font-size="10.5">/µL</text>
</g>
<g transform="translate(507.4,306.3) rotate(90)">
<text x="-33" y="0" font-size="10.5">WBC x 10</text>
<text x="13.5" y="-4.6" font-size="7.5">3</text>
<text x="18" y="0" font-size="10.5">/µL</text>
</g>
</g>
</svg>
</body></html>
